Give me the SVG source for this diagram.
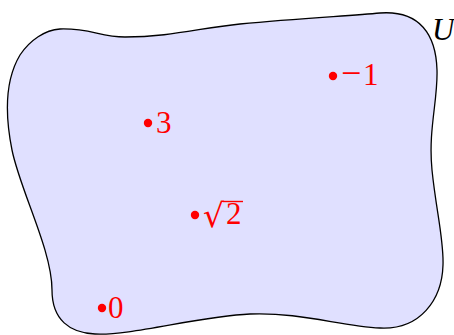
<svg xmlns="http://www.w3.org/2000/svg" width="454" height="335" viewBox="0 0 454 335">
<style>
.lbl{font-family:"Liberation Serif","DejaVu Serif",serif;font-size:31px;fill:#ff0000}
.dot{fill:#ff0000}
</style>
<rect width="454" height="335" fill="#ffffff"/>
<g id="setU">
<path d="M 60,29 C 90,28 100,37 125,37 C 170,37 200,28 240,24 C 300,18 350,16 380,13 C 420,10 436,35 437,70 C 438,100 428,130 432,170 C 436,210 444,240 443,265 C 442,300 420,330 380,328 C 340,326 300,312 250,314 C 200,316 130,336 95,334 C 70,333 52,320 52,290 C 52,250 20,190 12,150 C 5,115 5,80 20,55 C 30,40 45,30 60,29 Z" fill="#e0e0ff" stroke="#000" stroke-width="1.3"/>
<text x="432" y="40" font-family="Liberation Serif, serif" font-style="italic" font-size="31" fill="#000">U</text>
</g>
<g id="p-1">
<circle class="dot" cx="333" cy="76" r="4.2"/>
<text class="lbl" x="341" y="85"><tspan font-size="36">−</tspan><tspan x="363">1</tspan></text>
</g>
<g id="p3">
<circle class="dot" cx="148" cy="123" r="4.2"/>
<text class="lbl" x="156" y="133">3</text>
</g>
<g id="psqrt2">
<circle class="dot" cx="195" cy="215" r="4.2"/>
<text class="lbl" x="203" y="227"><tspan font-family="DejaVu Serif, serif" font-size="33">√</tspan><tspan x="226" y="224">2</tspan></text>
<line x1="223" y1="201.5" x2="243" y2="201.5" stroke="#ff0000" stroke-width="1.4"/>
</g>
<g id="p0">
<circle class="dot" cx="102" cy="308" r="4.2"/>
<text class="lbl" x="108" y="318">0</text>
</g>
</svg>
